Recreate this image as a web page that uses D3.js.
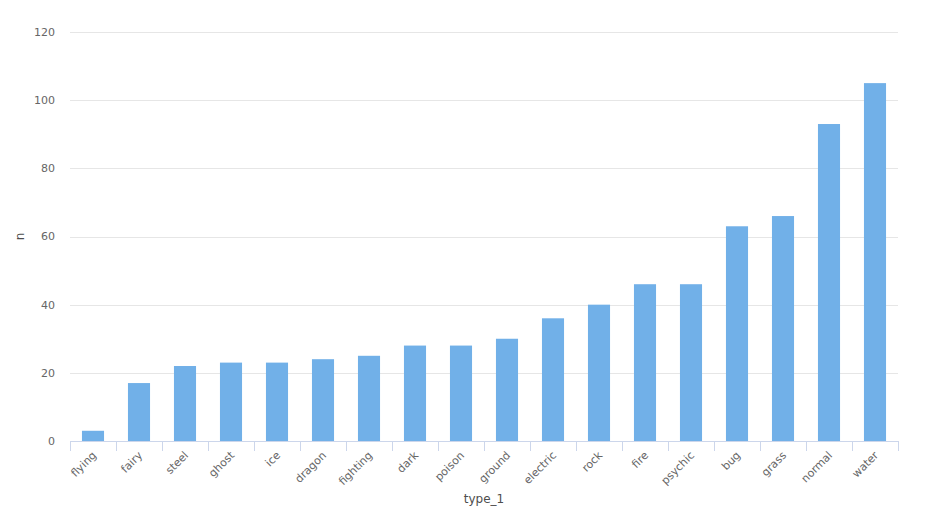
<!DOCTYPE html>
<html><head><meta charset="utf-8">
<script src="https://cdn.jsdelivr.net/npm/d3@7/dist/d3.min.js"></script>
<style>body{margin:0;background:#fff;} text{font-family:"DejaVu Sans",sans-serif;}</style>
</head><body><svg id="c" width="936" height="521"></svg>
<script>
const categories = ["flying","fairy","steel","ghost","ice","dragon","fighting","dark","poison","ground","electric","rock","fire","psychic","bug","grass","normal","water"];
const values = [3,17,22,23,23,24,25,28,28,30,36,40,46,46,63,66,93,105];
const yTicks = [0,20,40,60,80,100,120];
const xTitle = "type_1", yTitle = "n";

const svg = d3.select("#c");
const L=70, R=898, T=32, B=441;
const x = d3.scaleBand().domain(categories).range([L,R]).paddingInner(0).paddingOuter(0);
const y = d3.scaleLinear().domain([0,120]).range([B,T]);

svg.append("g").selectAll("line").data(yTicks.filter(d=>d>0)).join("line")
  .attr("x1",L).attr("x2",R).attr("y1",d=>Math.round(y(d))+0.5).attr("y2",d=>Math.round(y(d))+0.5)
  .attr("stroke","#e6e6e6").attr("stroke-width",1);

svg.append("g").selectAll("text").data(yTicks).join("text")
  .attr("x",55).attr("y",d=>y(d)).attr("dy","0.35em").attr("text-anchor","end")
  .attr("font-size",11).attr("fill","#666").text(d=>d);

const bw = x.bandwidth()*0.48;
svg.append("g").selectAll("rect").data(categories).join("rect")
  .attr("x",(d)=>x(d)+x.bandwidth()/2-bw/2).attr("width",bw)
  .attr("y",(d,i)=>y(values[i])).attr("height",(d,i)=>B-y(values[i]))
  .attr("fill","#71b0e8");

svg.append("line").attr("x1",L).attr("x2",R).attr("y1",B+0.5).attr("y2",B+0.5).attr("stroke","#ccd6eb");
const edges = categories.map(c=>x(c)).concat([R]);
svg.append("g").selectAll("line").data(edges).join("line")
  .attr("x1",d=>Math.round(d)+0.5).attr("x2",d=>Math.round(d)+0.5).attr("y1",B).attr("y2",B+10)
  .attr("stroke","#ccd6eb");

svg.append("g").selectAll("text").data(categories).join("text")
  .attr("transform",d=>`translate(${x(d)+x.bandwidth()/2+4},${B+15}) rotate(-45)`)
  .attr("text-anchor","end").attr("font-size",11).attr("fill","#666").text(d=>d);

svg.append("text").attr("x",(L+R)/2).attr("y",503).attr("text-anchor","middle")
  .attr("font-size",12).attr("fill","#4d4d4d").text(xTitle);
svg.append("text").attr("transform",`translate(24,${(T+B)/2}) rotate(-90)`).attr("text-anchor","middle")
  .attr("font-size",12).attr("fill","#4d4d4d").text(yTitle);
</script></body></html>
